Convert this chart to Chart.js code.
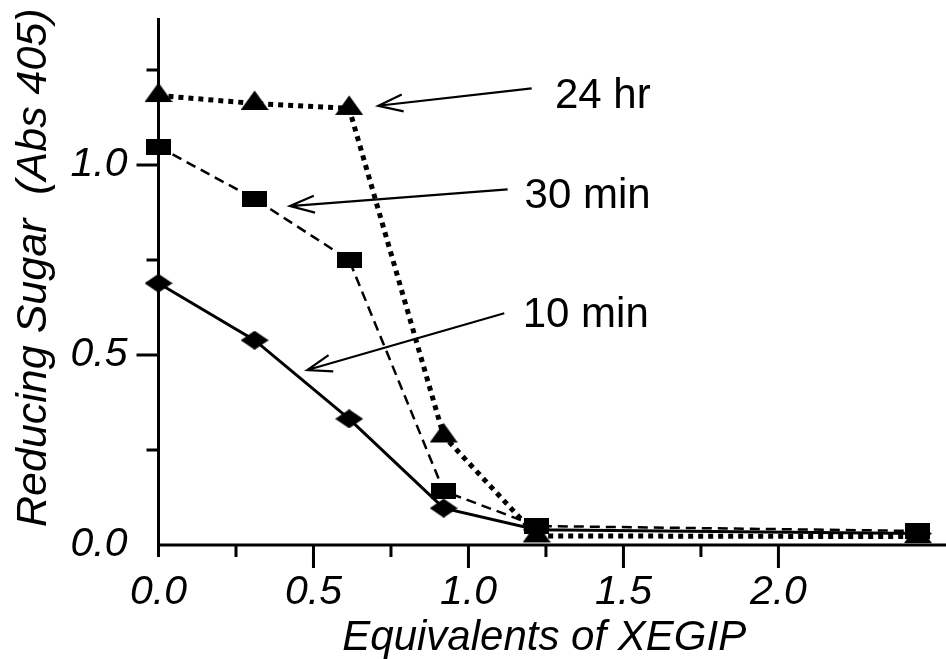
<!DOCTYPE html>
<html>
<head>
<meta charset="utf-8">
<script src="https://cdn.jsdelivr.net/npm/chart.js@4.4.1/dist/chart.umd.min.js"></script>
<style>
  html, body { margin: 0; padding: 0; background: #fff; }
  #wrap { width: 946px; height: 659px; }
</style>
</head>
<body>
<div id="wrap"><canvas id="c" width="946" height="659"></canvas></div>
<script>
// ---- data ----
const xValues = [0, 0.31, 0.615, 0.92, 1.22, 2.45];
const hr24  = [1.183, 1.162, 1.149, 0.287, 0.024, 0.022];
const min30 = [1.048, 0.911, 0.750, 0.142, 0.050, 0.037];
const min10 = [0.689, 0.539, 0.332, 0.097, 0.040, 0.030];

const xMajorTicks = [0, 0.5, 1.0, 1.5, 2.0];
const xMinorTicks = [0.25, 0.75, 1.25, 1.75];
const yMajorTicks = [0, 0.5, 1.0];
const yMinorTicks = [0.25, 0.75, 1.25];

const xTitle = 'Equivalents of XEGIP';
const yTitle = 'Reducing Sugar  (Abs 405)';

// annotation labels & arrows (data coordinates)
const labelTexts = ['24 hr', '30 min', '10 min'];
const labelX = [1.279, 1.181, 1.175];
const labelY = [1.149, 0.886, 0.5745];
const arrowTail = [[1.204, 1.202], [1.1265, 0.936], [1.1155, 0.610]];
const arrowTip  = [[0.709, 1.156], [0.424, 0.892], [0.480, 0.4605]];

const FONT = '"Liberation Sans", Arial, Helvetica, sans-serif';

// ---- marker images ----
function makeRect(w, h) {
  const c = document.createElement('canvas'); c.width = w; c.height = h;
  const g = c.getContext('2d'); g.fillStyle = '#000'; g.fillRect(0, 0, w, h); return c;
}
function makeDiamond(w, h) {
  const c = document.createElement('canvas'); c.width = w; c.height = h;
  const g = c.getContext('2d'); g.fillStyle = '#000';
  g.beginPath(); g.moveTo(0, h / 2); g.lineTo(w / 2, 0); g.lineTo(w, h / 2); g.lineTo(w / 2, h); g.closePath(); g.fill();
  return c;
}
function makeTriangle(w, h) {
  // canvas taller so the image centre sits at 2/3 of the triangle's height
  const ch = Math.round(h * 4 / 3);
  const c = document.createElement('canvas'); c.width = w; c.height = ch;
  const g = c.getContext('2d'); g.fillStyle = '#000';
  g.beginPath(); g.moveTo(w / 2, 0.5); g.lineTo(w, h); g.lineTo(0, h); g.closePath(); g.fill();
  return c;
}
const sqImg = makeRect(25, 16);
const diaImg = makeDiamond(28, 19);
const triImg = makeTriangle(28, 20);

const toPts = arr => arr.map((v, i) => ({ x: xValues[i], y: v }));

const axesPlugin = {
  id: 'axesPlugin',
  beforeDatasetsDraw(chart) {
    const { ctx, chartArea: a, scales: { x, y } } = chart;
    ctx.save();
    ctx.strokeStyle = '#000';
    ctx.lineWidth = 3;
    ctx.lineCap = 'butt';
    ctx.beginPath();
    ctx.moveTo(a.left, a.top); ctx.lineTo(a.left, a.bottom + 12);
    ctx.moveTo(a.left, a.bottom); ctx.lineTo(chart.width, a.bottom);
    xMajorTicks.forEach(v => { if (v === 0) return; const px = x.getPixelForValue(v); ctx.moveTo(px, a.bottom); ctx.lineTo(px, a.bottom + 23); });
    xMinorTicks.forEach(v => { const px = x.getPixelForValue(v); ctx.moveTo(px, a.bottom); ctx.lineTo(px, a.bottom + 12); });
    yMajorTicks.forEach(v => { if (v === 0) return; const py = y.getPixelForValue(v); ctx.moveTo(a.left, py); ctx.lineTo(a.left - 22, py); });
    yMinorTicks.forEach(v => { const py = y.getPixelForValue(v); ctx.moveTo(a.left, py); ctx.lineTo(a.left - 12, py); });
    ctx.stroke();
    ctx.restore();
  },
  afterDraw(chart) {
    const { ctx, chartArea: a, scales: { x, y } } = chart;
    ctx.save();
    ctx.fillStyle = '#000';
    ctx.strokeStyle = '#000';
    // annotations
    ctx.font = '42px ' + FONT;
    ctx.textAlign = 'left';
    ctx.textBaseline = 'alphabetic';
    labelTexts.forEach((t, i) => {
      ctx.fillText(t, x.getPixelForValue(labelX[i]), y.getPixelForValue(labelY[i]));
    });
    ctx.lineWidth = 2.2;
    arrowTail.forEach((tail, i) => {
      const x1 = x.getPixelForValue(tail[0]), y1 = y.getPixelForValue(tail[1]);
      const x2 = x.getPixelForValue(arrowTip[i][0]), y2 = y.getPixelForValue(arrowTip[i][1]);
      const ang = Math.atan2(y1 - y2, x1 - x2);
      const L = 26, h = 0.33;
      ctx.beginPath();
      ctx.moveTo(x1, y1); ctx.lineTo(x2, y2);
      ctx.moveTo(x2 + L * Math.cos(ang + h), y2 + L * Math.sin(ang + h));
      ctx.lineTo(x2, y2);
      ctx.lineTo(x2 + L * Math.cos(ang - h), y2 + L * Math.sin(ang - h));
      ctx.stroke();
    });
    // axis titles
    ctx.font = 'italic 42px ' + FONT;
    ctx.textAlign = 'center';
    ctx.textBaseline = 'alphabetic';
    ctx.fillText(xTitle, (a.left + a.right) / 2, 650);
    ctx.save();
    ctx.font = 'italic 43px ' + FONT;
    ctx.translate(46, 527);
    ctx.rotate(-Math.PI / 2);
    ctx.textAlign = 'left';
    ctx.fillText(yTitle, 0, 0);
    ctx.restore();
    ctx.restore();
  }
};

const common = { showLine: true, tension: 0, borderColor: '#000', backgroundColor: '#000', pointRadius: 10, pointHoverRadius: 10, clip: false, fill: false };

new Chart(document.getElementById('c'), {
  type: 'scatter',
  data: {
    datasets: [
      Object.assign({}, common, { label: '30 min', data: toPts(min30), borderWidth: 2.5, borderDash: [10, 6], pointStyle: sqImg }),
      Object.assign({}, common, { label: '10 min', data: toPts(min10), borderWidth: 3, pointStyle: diaImg }),
      Object.assign({}, common, { label: '24 hr', data: toPts(hr24), borderWidth: 5, borderDash: [5, 5], pointStyle: triImg })
    ]
  },
  options: {
    responsive: false,
    animation: false,
    events: [],
    layout: { padding: { top: 18, right: 16, left: 0, bottom: 0 } },
    plugins: { legend: { display: false }, tooltip: { enabled: false } },
    scales: {
      x: {
        type: 'linear', min: 0, max: 2.489,
        afterFit(s) { s.height = 114; s.paddingLeft = 0; s.paddingRight = 0; },
        afterBuildTicks(s) { s.ticks = xMajorTicks.map(v => ({ value: v })); },
        grid: { display: false, drawTicks: true, tickLength: 23 },
        border: { display: false },
        ticks: { color: '#000', padding: 0, maxRotation: 0, autoSkip: false,
          font: { family: FONT, size: 41, style: 'italic' },
          callback: v => Number(v).toFixed(1) }
      },
      y: {
        type: 'linear', min: 0, max: 1.387,
        afterFit(s) { s.width = 158.5; s.paddingTop = 0; s.paddingBottom = 0; },
        afterBuildTicks(s) { s.ticks = yMajorTicks.map(v => ({ value: v })); },
        grid: { display: false, drawTicks: true, tickLength: 23 },
        border: { display: false },
        ticks: { color: '#000', padding: 8, autoSkip: false,
          font: { family: FONT, size: 41, style: 'italic' },
          callback: v => Number(v).toFixed(1) }
      }
    }
  },
  plugins: [axesPlugin]
});
</script>
</body>
</html>
